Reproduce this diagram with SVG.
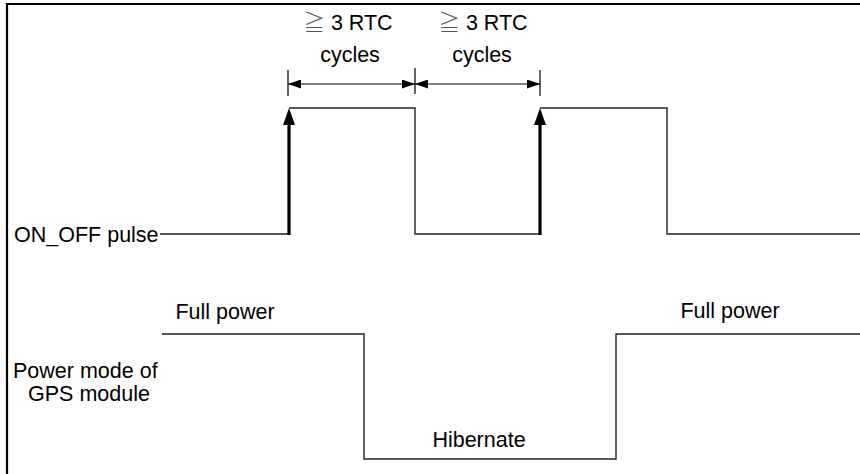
<svg xmlns="http://www.w3.org/2000/svg" width="860" height="474" viewBox="0 0 860 474">
<style>
text{font-family:"Liberation Sans",Arial,sans-serif;font-size:21.5px;fill:#000}
.sig{fill:none;stroke:#222;stroke-width:1.4}
.dim{fill:none;stroke:#000;stroke-width:1.2}
.tick{stroke:#000;stroke-width:1.2}
.trig{stroke:#000;stroke-width:3.2}
.ge{fill:#555;font-family:"Noto Sans CJK JP","DejaVu Sans",sans-serif;font-weight:300}
</style>
<defs>
<marker id="dimArrow" markerWidth="13" markerHeight="9" refX="13" refY="4.5" orient="auto-start-reverse" markerUnits="userSpaceOnUse">
<path d="M0,0 L13,4.5 L0,9 Z" fill="#000"/>
</marker>
</defs>
<g id="frame">
<path d="M7,474 V4 H860" fill="none" stroke="#000" stroke-width="2.2"/>
</g>
<g id="labels">
<text x="14" y="242">ON_OFF pulse</text>
<text x="13" y="378">Power mode of</text>
<text x="28" y="401">GPS module</text>
</g>
<g id="on_off_pulse">
<path class="sig" d="M160,234 H289 M289,108 H415 V234 H540 M540,108 H667 V234 H860"/>
</g>
<g id="power_mode">
<path class="sig" d="M162,334 H364 V459 H616 V334 H860"/>
<text x="225" y="319" text-anchor="middle">Full power</text>
<text x="479" y="447" text-anchor="middle">Hibernate</text>
<text x="730" y="318" text-anchor="middle">Full power</text>
</g>
<g id="dimension1">
<text x="348" y="30" text-anchor="middle"><tspan class="ge">≧</tspan> 3 RTC</text>
<text x="350" y="62" text-anchor="middle">cycles</text>
</g>
<g id="dimension2">
<text x="483" y="30" text-anchor="middle"><tspan class="ge">≧</tspan> 3 RTC</text>
<text x="482" y="62" text-anchor="middle">cycles</text>
</g>
<g id="connectors">
<line class="tick" x1="288" y1="70" x2="288" y2="96"/>
<line class="tick" x1="415" y1="68" x2="415" y2="94"/>
<line class="tick" x1="540" y1="70" x2="540" y2="96"/>
<line class="dim" x1="288" y1="84" x2="415" y2="84" marker-start="url(#dimArrow)" marker-end="url(#dimArrow)"/>
<line class="dim" x1="415" y1="84" x2="540" y2="84" marker-start="url(#dimArrow)" marker-end="url(#dimArrow)"/>
<line class="trig" x1="289" y1="235" x2="289" y2="120"/>
<path d="M283,125 L289,108 L295,125 Z" fill="#000"/>
<line class="trig" x1="540" y1="235" x2="540" y2="120"/>
<path d="M534,125 L540,108 L546,125 Z" fill="#000"/>
</g>
</svg>
